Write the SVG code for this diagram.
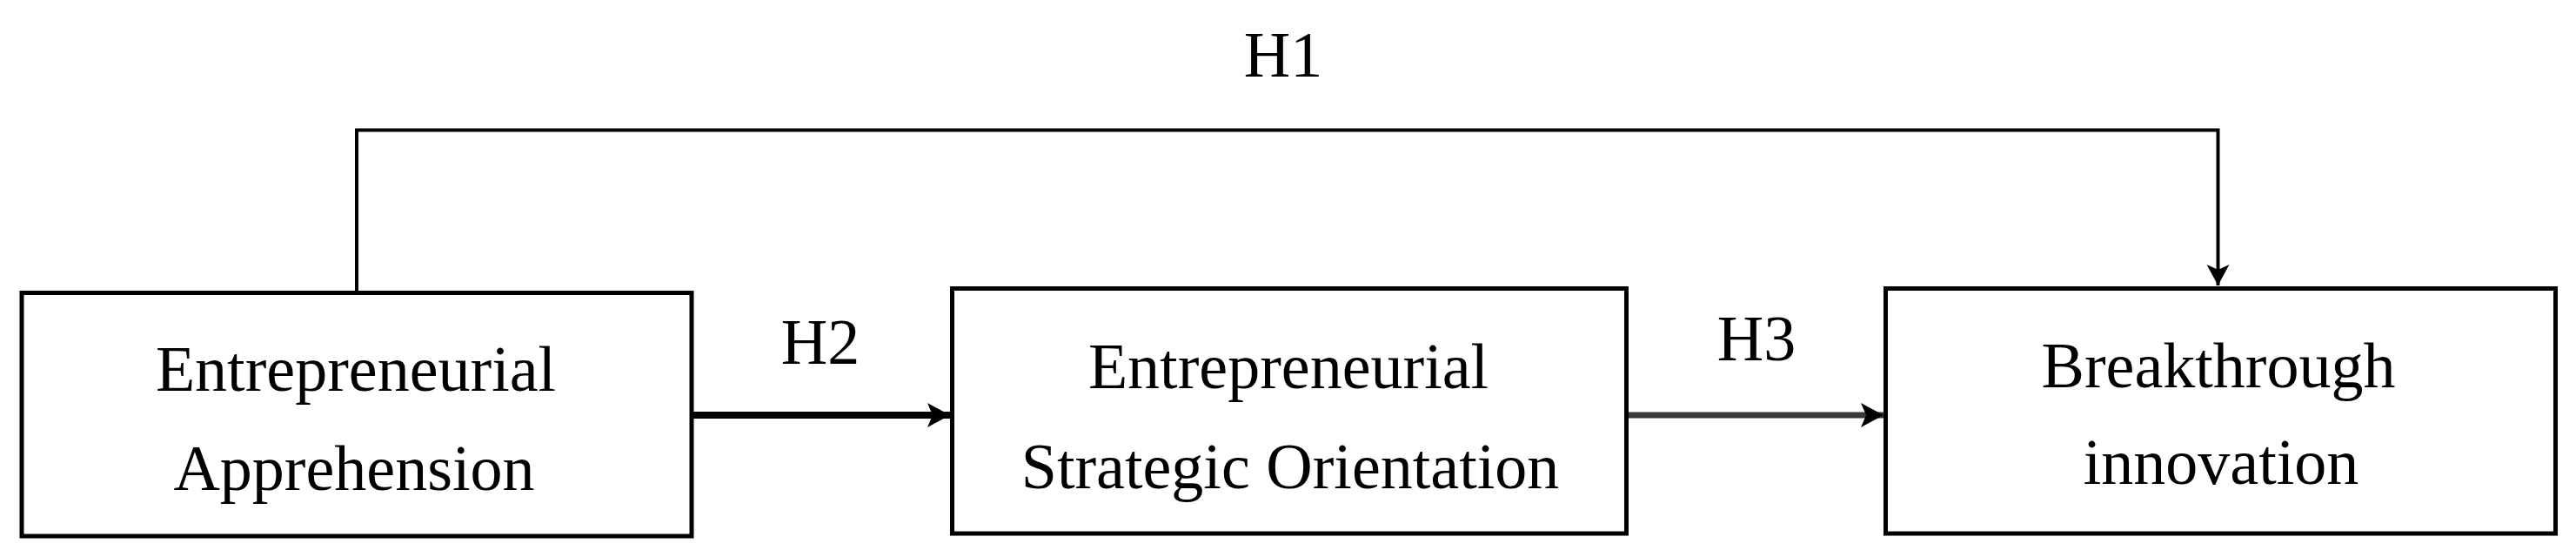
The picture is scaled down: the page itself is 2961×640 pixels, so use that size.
<svg xmlns="http://www.w3.org/2000/svg" width="2961" height="640" viewBox="0 0 2961 640">
<style>
.box{fill:#fff;stroke:#000;stroke-width:5}
.lbl{font-family:"Liberation Serif","Times New Roman",serif;font-size:74px;fill:#000;text-anchor:middle}
.conn{fill:none;stroke-linecap:butt}
</style>
<defs>
<marker id="ah" markerUnits="userSpaceOnUse" markerWidth="28" markerHeight="32" viewBox="0 0 28 32" refX="26" refY="16" orient="auto">
<path d="M0,2 L26,16 L0,30 L6,16 Z" fill="#000"/>
</marker>
<marker id="ahs" markerUnits="userSpaceOnUse" markerWidth="26" markerHeight="28" viewBox="0 0 26 28" refX="24" refY="14" orient="auto">
<path d="M0,1 L24,14 L0,27 L6,14 Z" fill="#000"/>
</marker>
</defs>
<rect width="2961" height="640" fill="#fff"/>
<g id="connectors">
<path class="conn" d="M410,337 V149.5 H2549.5 V328" stroke="#000" stroke-width="4" marker-end="url(#ahs)"/>
<path class="conn" d="M795,477 H1092" stroke="#000" stroke-width="8" marker-end="url(#ah)"/>
<path class="conn" d="M1870,477 H2165" stroke="#3a3a3a" stroke-width="7" marker-end="url(#ah)"/>
<text class="lbl" x="1475" y="88">H1</text>
<text class="lbl" x="943" y="418">H2</text>
<text class="lbl" x="2019" y="414">H3</text>
</g>
<g id="node-apprehension">
<rect class="box" x="25" y="336.5" width="770" height="279.5"/>
<text class="lbl" x="409" y="449">Entrepreneurial</text>
<text class="lbl" x="407" y="563">Apprehension</text>
</g>
<g id="node-eso">
<rect class="box" x="1094.5" y="331.5" width="775" height="281.5"/>
<text class="lbl" x="1481" y="446">Entrepreneurial</text>
<text class="lbl" x="1483" y="561">Strategic Orientation</text>
</g>
<g id="node-breakthrough">
<rect class="box" x="2167.5" y="331.5" width="770" height="281.5"/>
<text class="lbl" x="2550" y="445">Breakthrough</text>
<text class="lbl" x="2553" y="556">innovation</text>
</g>
</svg>
